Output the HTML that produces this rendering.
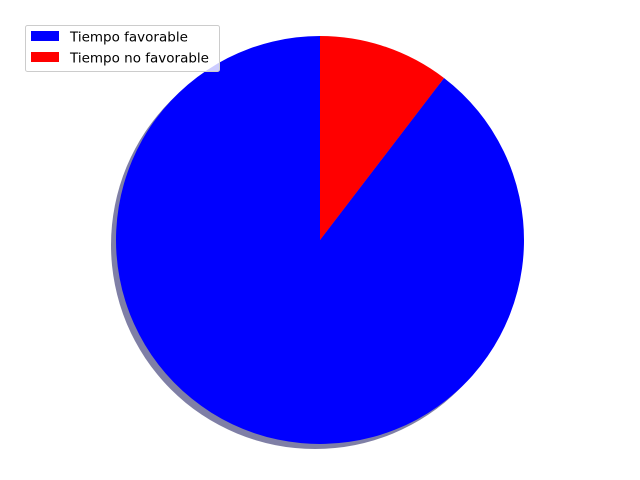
<!DOCTYPE html>
<html><head><meta charset="utf-8"><style>
html,body{margin:0;padding:0;background:#fff;}
svg{display:block;font-family:"DejaVu Sans","Liberation Sans",sans-serif;}
</style></head><body>
<svg id="chart" width="640" height="480">
<rect width="640" height="480" fill="#fff"/>
<g id="shadow"></g>
<g id="slices"></g>
<g>
<rect x="25.5" y="25.5" width="194" height="46" rx="2" fill="#fff" fill-opacity="0.8" stroke="#ccc"/>
<g id="legend-items"></g>
</g>
</svg>
<script>
const labels = ["Tiempo favorable", "Tiempo no favorable"];
const values = [89.6, 10.4];
const colors = ["#0000ff", "#ff0000"];

const cx = 320, cy = 240, r = 204;
const ns = "http://www.w3.org/2000/svg";
const total = values.reduce((a, b) => a + b, 0);
const sh = document.createElementNS(ns, "circle");
sh.setAttribute("cx", cx - 5); sh.setAttribute("cy", cy + 5); sh.setAttribute("r", r);
sh.setAttribute("fill", "#00004d"); sh.setAttribute("fill-opacity", "0.5");


document.getElementById("shadow").appendChild(sh);

let ang = 90;
const sl = document.getElementById("slices");
values.forEach((v, i) => {
  const sweep = v / total * 360;
  const a0 = ang * Math.PI / 180, a1 = (ang + sweep) * Math.PI / 180;
  const x0 = cx + r * Math.cos(a0), y0 = cy - r * Math.sin(a0);
  const x1 = cx + r * Math.cos(a1), y1 = cy - r * Math.sin(a1);
  const large = sweep > 180 ? 1 : 0;
  const p = document.createElementNS(ns, "path");
  p.setAttribute("d", `M${cx},${cy} L${x0},${y0} A${r},${r} 0 ${large} 0 ${x1},${y1} Z`);
  p.setAttribute("fill", colors[i]);
  
  
  sl.appendChild(p);
  ang += sweep;
});

const lg = document.getElementById("legend-items");
labels.forEach((t, i) => {
  const y = 31 + i * 21;
  const rc = document.createElementNS(ns, "rect");
  rc.setAttribute("x", 31); rc.setAttribute("y", y); rc.setAttribute("width", 28); rc.setAttribute("height", 10);
  rc.setAttribute("fill", colors[i]);
  
  
  lg.appendChild(rc);
  const tx = document.createElementNS(ns, "text");
  tx.setAttribute("x", 70); tx.setAttribute("y", y + 10.5);
  tx.setAttribute("font-size", "13.5"); tx.setAttribute("fill", "#000");
  tx.textContent = t;
  
  
  lg.appendChild(tx);
});
</script>
</body></html>
